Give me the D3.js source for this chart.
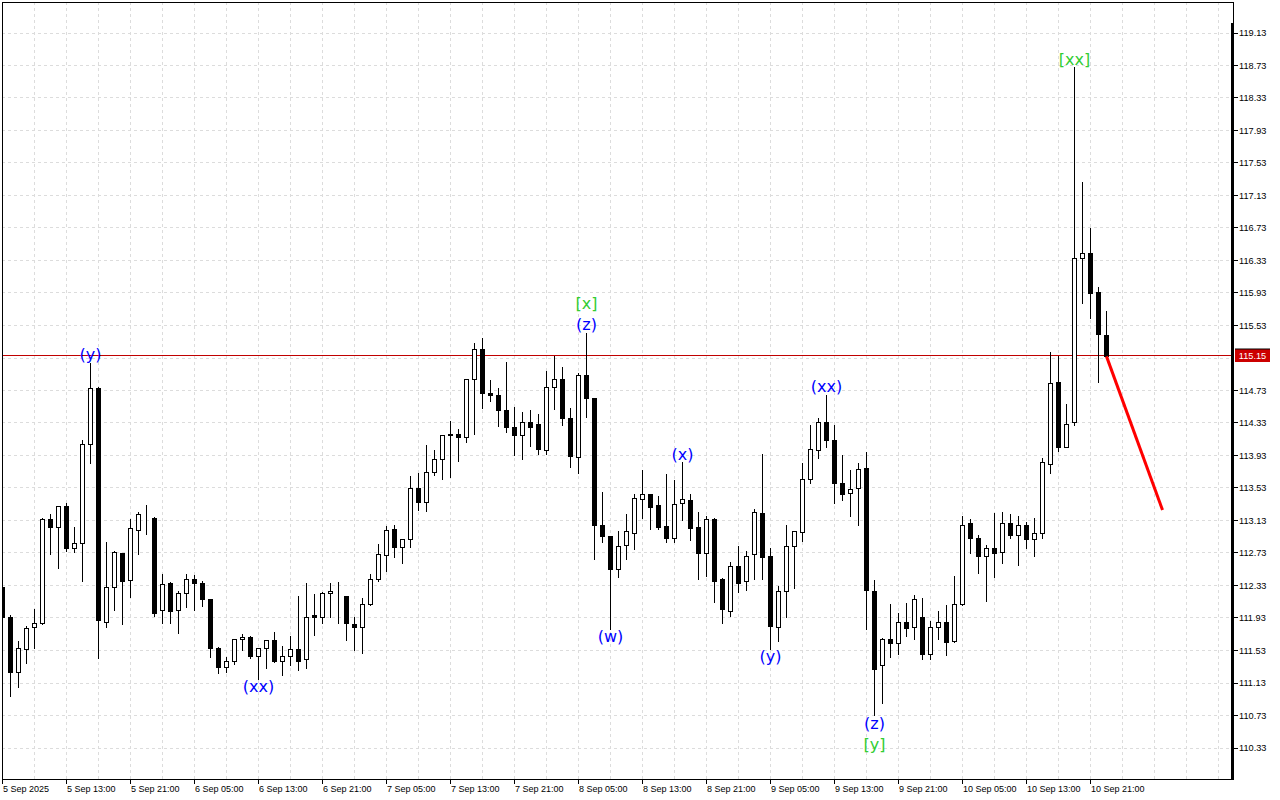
<!DOCTYPE html>
<html><head><meta charset="utf-8">
<script src="https://cdn.jsdelivr.net/npm/d3@7"></script>
<style>html,body{margin:0;padding:0;background:#fff;} svg{display:block;}</style>
</head><body>
<svg id="chart" width="1280" height="800"></svg>
<script>
// ---- DATA (H1 candles from 5 Sep 2025 05:00) ----
const openP = [112.31,111.94,111.26,111.54,111.81,111.86,113.14,113.05,113.30,112.79,112.85,114.06,114.75,111.88,112.30,112.72,112.39,113.01,113.21,113.16,
112.02,112.35,112.02,112.23,112.41,112.35,112.16,111.56,111.32,111.39,111.67,111.69,111.45,111.56,111.65,111.40,111.45,111.54,111.42,111.96,
111.93,112.23,112.26,112.20,111.85,111.81,112.09,112.41,112.70,113.02,112.80,112.90,113.52,113.35,113.72,113.88,114.17,114.19,114.15,114.86,
115.24,114.69,114.67,114.49,114.27,114.17,114.34,114.31,113.99,114.77,114.87,114.38,113.90,114.92,114.63,113.07,112.93,112.53,112.82,112.97,
113.39,113.45,113.31,113.06,112.91,113.34,113.37,113.04,112.72,113.14,112.41,112.01,112.57,112.38,112.71,113.22,112.69,111.81,112.25,112.81,
112.98,113.64,113.99,114.34,114.12,113.59,113.46,113.52,113.77,112.25,111.34,111.66,111.62,111.88,111.81,111.94,111.48,111.81,111.88,111.64,
112.10,113.09,112.91,112.69,112.79,112.73,113.09,112.95,113.07,112.90,112.97,113.82,114.83,114.03,114.33,116.35,116.42,115.93,115.41];
const highP = [112.34,111.97,111.65,111.83,112.04,113.16,113.21,113.31,113.34,113.05,114.12,115.07,114.77,112.86,112.75,112.72,113.15,113.23,113.32,113.17,
112.47,112.37,112.26,112.47,112.46,112.38,112.16,111.57,111.45,111.67,111.73,111.71,111.56,111.65,111.76,111.59,111.71,112.20,112.36,112.22,
112.25,112.36,112.37,112.20,111.94,112.18,112.47,112.84,113.06,113.07,112.90,113.68,113.71,114.06,114.00,114.17,114.35,114.26,114.87,115.32,
115.37,114.86,114.76,115.08,114.53,114.47,114.49,114.44,114.97,115.16,115.02,114.51,114.94,115.44,114.63,113.48,112.93,113.00,113.21,113.46,
113.75,113.46,113.43,113.70,113.63,113.85,113.46,113.23,113.19,113.16,112.42,112.62,112.81,112.76,113.27,113.95,112.79,112.32,113.07,113.00,
113.84,114.31,114.39,114.68,114.30,113.94,113.75,113.84,113.97,112.40,111.68,112.10,111.99,112.12,112.21,112.18,111.89,112.02,112.09,112.45,
113.18,113.15,112.95,112.83,113.22,113.24,113.21,113.18,113.11,113.16,113.90,115.21,115.16,114.56,118.71,117.30,116.73,116.00,115.71];
const lowP = [111.90,110.97,111.08,111.37,111.56,111.86,112.72,112.54,112.76,112.74,112.39,113.84,111.44,111.82,112.03,111.86,112.19,112.72,112.96,111.95,
111.87,111.87,111.75,112.07,112.03,112.08,111.45,111.25,111.26,111.36,111.54,111.44,111.18,111.31,111.39,111.23,111.35,111.29,111.31,111.72,
111.87,111.94,111.87,111.66,111.54,111.50,112.09,112.39,112.51,112.68,112.61,112.80,113.26,113.25,113.69,113.64,113.67,113.86,114.09,114.20,
114.52,114.60,114.29,114.22,113.93,113.89,114.05,113.95,113.95,114.50,114.31,113.79,113.72,114.40,112.66,112.86,111.80,112.43,112.66,112.78,
113.16,113.03,113.03,112.86,112.86,113.14,112.89,112.41,112.45,112.13,111.87,111.95,112.25,112.27,112.41,112.41,111.55,111.65,111.94,112.30,
112.88,113.59,113.90,114.03,113.35,113.38,113.18,113.08,111.80,110.73,110.88,111.45,111.49,111.71,111.67,111.43,111.43,111.67,111.48,111.63,
112.09,112.73,112.49,112.14,112.44,112.61,112.92,112.58,112.79,112.69,112.92,113.71,113.99,114.03,114.30,115.81,115.62,114.84,115.15];
const closeP = [111.94,111.26,111.56,111.80,111.86,113.14,113.05,113.30,112.79,112.85,114.06,114.75,111.90,112.30,112.73,112.38,113.03,113.21,113.20,111.99,
112.34,112.01,112.23,112.41,112.36,112.16,111.56,111.32,111.40,111.67,111.69,111.45,111.56,111.65,111.40,111.45,111.54,111.39,111.93,111.94,
112.23,112.26,112.26,111.86,111.81,112.09,112.41,112.71,113.01,112.80,112.90,113.52,113.35,113.72,113.88,114.17,114.19,114.15,114.87,115.24,
114.69,114.67,114.48,114.27,114.17,114.34,114.28,114.00,114.77,114.87,114.38,113.92,114.91,114.63,113.07,112.93,112.53,112.81,113.00,113.40,
113.45,113.29,113.04,112.91,113.33,113.39,113.03,112.72,113.14,112.38,112.04,112.57,112.36,112.69,113.23,112.68,111.82,112.26,112.81,113.00,
113.63,114.00,114.33,114.11,113.58,113.45,113.51,113.76,112.27,111.29,111.66,111.61,111.88,111.80,112.16,111.48,111.81,111.87,111.63,112.09,
113.07,112.91,112.69,112.79,112.72,113.09,112.94,113.07,112.89,112.97,113.84,114.81,114.03,114.31,116.35,116.42,115.92,115.42,115.15];

const xTickLabels = ["5 Sep 2025","5 Sep 13:00","5 Sep 21:00","6 Sep 05:00","6 Sep 13:00","6 Sep 21:00",
  "7 Sep 05:00","7 Sep 13:00","7 Sep 21:00","8 Sep 05:00","8 Sep 13:00","8 Sep 21:00",
  "9 Sep 05:00","9 Sep 13:00","9 Sep 21:00","10 Sep 05:00","10 Sep 13:00","10 Sep 21:00"];
const yTickValues = [119.13,118.73,118.33,117.93,117.53,117.13,116.73,116.33,115.93,115.53,115.13,
  114.73,114.33,113.93,113.53,113.13,112.73,112.33,111.93,111.53,111.13,110.73,110.33];
const lastPrice = 115.15;

const waveIndex  = [11, 32, 73, 73, 76, 85, 96, 103, 109, 109, 134];
const waveText   = ["(y)","(xx)","(z)","[x]","(w)","(x)","(y)","(xx)","(z)","[y]","[xx]"];
const waveSide   = ["high","low","high","high","low","high","low","high","low","low","high"];
const waveDegree = ["minor","minor","minor","major","minor","minor","minor","minor","minor","major","major"];

const forecastIndex = [138, 145];
const forecastPrice = [115.15, 113.26];

// ---- RENDER ----
const W = 1280, H = 800;
const PL = 2, PT = 2, PR = 1233, PB = 779;
const candles = openP.map((o, i) => ({i, o, h: highP[i], l: lowP[i], c: closeP[i]}));

const x = d3.scaleLinear().domain([0, 154]).range([2.5, 2.5 + 8 * 154]);
const y = d3.scaleLinear().domain([110.33, 119.13]).range([748, 33]);
const cr = v => Math.floor(v) + 0.5;

const svg = d3.select('#chart');
svg.append('rect').attr('width', W).attr('height', H).attr('fill', '#fff');

svg.append('defs').append('clipPath').attr('id', 'plotclip')
  .append('rect').attr('x', PL).attr('y', PT).attr('width', PR - PL).attr('height', PB - PT);

const gridColor = '#dcdcdc';
const grid = svg.append('g').attr('stroke', gridColor).attr('stroke-width', 1).attr('stroke-dasharray', '3,3');
grid.selectAll('line.h').data(yTickValues).join('line').attr('class', 'h')
  .attr('x1', PL).attr('x2', PR).attr('y1', d => cr(y(d))).attr('y2', d => cr(y(d)));
const vIdx = d3.range(4, 154, 4);
grid.selectAll('line.v').data(vIdx).join('line').attr('class', 'v')
  .attr('x1', d => x(d)).attr('x2', d => x(d)).attr('y1', PT).attr('y2', PB);

// price line
const yp = cr(y(lastPrice)) - 1;
svg.append('line').attr('x1', PL).attr('x2', PR).attr('y1', yp).attr('y2', yp)
  .attr('stroke', '#c00000').attr('stroke-width', 1);

// candles
const cg = svg.append('g').attr('clip-path', 'url(#plotclip)');
cg.selectAll('line.wick').data(candles).join('line').attr('class', 'wick')
  .attr('x1', d => x(d.i)).attr('x2', d => x(d.i))
  .attr('y1', d => Math.round(y(d.h))).attr('y2', d => Math.round(y(d.l)) + 1)
  .attr('stroke', '#000').attr('stroke-width', 1);
cg.selectAll('rect.body').data(candles).join('rect').attr('class', 'body')
  .attr('x', d => x(d.i) - 2)
  .attr('width', 4)
  .attr('y', d => cr(y(Math.max(d.o, d.c))))
  .attr('height', d => Math.max(0, cr(y(Math.min(d.o, d.c))) - cr(y(Math.max(d.o, d.c)))))
  .attr('fill', d => d.c >= d.o ? '#fff' : '#000')
  .attr('stroke', '#000').attr('stroke-width', 1);

// forecast line
const fData = forecastIndex.map((d, k) => [x(d), y(forecastPrice[k])]);
svg.append('path').attr('d', d3.line()(fData))
  .attr('stroke', '#ff0000').attr('stroke-width', 3).attr('fill', 'none');

// wave labels
const stackCount = {};
waveIndex.forEach((idx, k) => {
  const key = idx + waveSide[k];
  const lvl = stackCount[key] || 0;
  stackCount[key] = lvl + 1;
  const c = candles[idx];
  const base = waveSide[k] === 'high'
    ? y(c.h) - 2.5 - lvl * 21.5
    : y(c.l) + 13.5 + lvl * 21;
  svg.append('text')
    .attr('x', x(idx)).attr('y', base)
    .attr('text-anchor', 'middle')
    .attr('font-family', '"DejaVu Sans", sans-serif')
    .attr('font-size', 16)
    .attr('fill', waveDegree[k] === 'major' ? '#32cd32' : '#0000ff')
    .text(waveText[k]);
});

// frame
const frame = svg.append('g').attr('stroke', '#000').attr('stroke-width', 1);
frame.append('line').attr('x1', PL).attr('x2', 1234).attr('y1', 2.5).attr('y2', 2.5);
frame.append('line').attr('x1', 2.5).attr('x2', 2.5).attr('y1', PT).attr('y2', 780);
frame.append('line').attr('x1', PL).attr('x2', 1234).attr('y1', 779.5).attr('y2', 779.5);
frame.append('line').attr('x1', 1233.5).attr('x2', 1233.5).attr('y1', PT).attr('y2', 25);
svg.append('rect').attr('x', 1231).attr('y', 23).attr('width', 3).attr('height', 757).attr('fill', '#000');

// right axis
const axisFont = '"Liberation Sans", Arial, sans-serif';
const yLab = yTickValues.filter(v => Math.abs(y(v) - y(lastPrice)) > 9);
svg.append('g').selectAll('line').data(yLab).join('line')
  .attr('x1', 1234).attr('x2', 1238).attr('y1', d => cr(y(d))).attr('y2', d => cr(y(d)))
  .attr('stroke', '#000');
svg.append('g').selectAll('text').data(yLab).join('text')
  .attr('x', 1239).attr('y', d => y(d) + 3.4)
  .attr('font-family', axisFont).attr('font-size', 9.2).attr('fill', '#000')
  .text(d => d.toFixed(2));

// price label
svg.append('rect').attr('x', 1235).attr('y', yp - 6.5).attr('width', 35).attr('height', 13)
  .attr('fill', '#cc0000');
svg.append('line').attr('x1', 1235).attr('x2', 1270).attr('y1', yp - 6.5).attr('y2', yp - 6.5)
  .attr('stroke', '#000').attr('stroke-width', 1);
svg.append('text').attr('x', 1252.5).attr('y', yp + 3.4).attr('text-anchor', 'middle')
  .attr('font-family', axisFont).attr('font-size', 9.2).attr('fill', '#fff')
  .text(lastPrice.toFixed(2));

// bottom axis
const xTickIdx = xTickLabels.map((d, k) => k * 8);
svg.append('g').selectAll('line').data(xTickIdx).join('line')
  .attr('x1', d => x(d)).attr('x2', d => x(d)).attr('y1', 780).attr('y2', 784)
  .attr('stroke', '#000');
svg.append('g').selectAll('text').data(xTickLabels).join('text')
  .attr('x', (d, k) => x(xTickIdx[k]) + 0.5).attr('y', 792)
  .attr('font-family', axisFont).attr('font-size', 9).attr('fill', '#000')
  .text(d => d);
</script>
</body></html>
